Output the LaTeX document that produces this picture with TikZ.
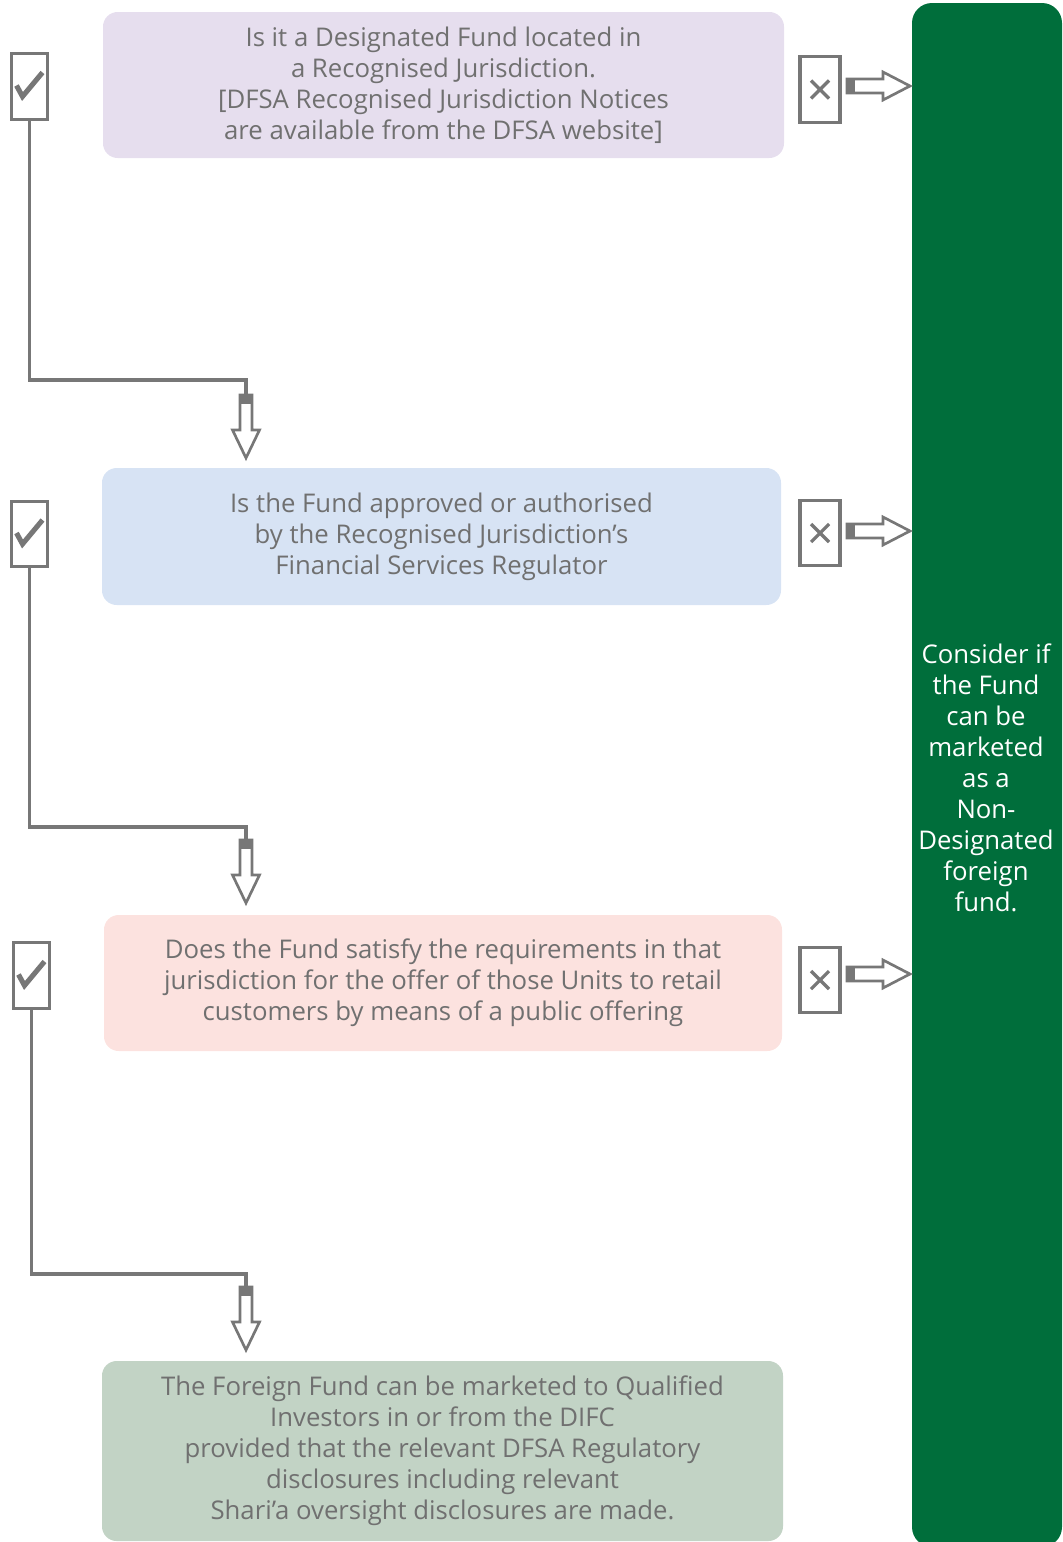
\documentclass[tikz,border=0pt]{standalone}
\usepackage{fontspec}
\setmainfont{Open Sans}
\usetikzlibrary{calc}
\definecolor{qpurple}{HTML}{E6DEEE}
\definecolor{qblue}{HTML}{D7E3F4}
\definecolor{qpink}{HTML}{FCE2DF}
\definecolor{qsage}{HTML}{C2D3C5}
\definecolor{dfsagreen}{HTML}{006E3B}
\definecolor{linegray}{HTML}{777777}
\definecolor{textgray}{HTML}{707070}
\tikzset{
  qbox/.style={rounded corners=11pt, inner sep=0pt, align=center, text=textgray,
    font=\fontsize{19.3}{23.25}\selectfont},
  tickbox/.style={draw=linegray, line width=2.4pt, fill=white, minimum width=27.5pt, minimum height=49pt, inner sep=0pt},
  conn/.style={draw=linegray, line width=2.4pt},
  tickmark/.style={draw=linegray, line width=2.4pt},
  pics/downarr/.style={code={
    \draw[linegray, line width=2pt, fill=white] (-6,0) -- (-6,35) -- (-13.5,35) -- (0,63) -- (13.5,35) -- (6,35) -- (6,0) -- cycle;
    \fill[linegray] (-6,0) rectangle (6,9);
  }},
  pics/rightarr/.style={code={
    \draw[linegray, line width=2pt, fill=white] (0,-7) -- (36,-7) -- (36,-14) -- (63,0) -- (36,14) -- (36,7) -- (0,7) -- cycle;
    \fill[linegray] (0,-7) rectangle (8,7);
  }}
}
\begin{document}
\begin{tikzpicture}[x=0.75pt, y=-0.75pt]
            \useasboundingbox (0,0) rectangle (1063,1542);

            % Non-Designated column
            \node[qbox, rounded corners=15pt, fill=dfsagreen, minimum width=112.5pt, minimum height=1158pt] (nd) at (987,775) {};
            \node[text=white, align=center, font=\fontsize{19.3}{23.25}\selectfont] (ndtext) at (986,778) {Consider if\\the Fund\\can be\\marketed\\as a\\Non-\\Designated\\foreign\\fund.};

            % Questions
            \node[qbox, fill=qpurple, minimum width=510.75pt, minimum height=109.5pt] (q1) at (443.5,85) {Is it a Designated Fund located in\\a Recognised Jurisdiction.\\{[}DFSA Recognised Jurisdiction Notices\\are available from the DFSA website{]}};
            \node[qbox, fill=qblue, minimum width=509.25pt, minimum height=102.75pt] (q2) at (441.5,536.5) {Is the Fund approved or authorised\\by the Recognised Jurisdiction’s\\Financial Services Regulator};
            \node[qbox, fill=qpink, minimum width=508.5pt, minimum height=102pt] (q3) at (443,983) {Does the Fund satisfy the requirements in that\\jurisdiction for the offer of those Units to retail\\customers by means of a public offering};
            \node[qbox, fill=qsage, minimum width=510.75pt, minimum height=135pt] (q4) at (442.5,1451) {The Foreign Fund can be marketed to Qualified\\Investors in or from the DIFC\\provided that the relevant DFSA Regulatory\\disclosures including relevant\\Shari’a oversight disclosures are made.};

            % yes boxes
            \node[tickbox] (yes1) at (29.5,86.5) {};
            \node[tickbox] (yes2) at (29.5,534) {};
            \node[tickbox] (yes3) at (31.5,975.5) {};
            \foreach \n in {yes1,yes2,yes3}
              \draw[tickmark, line width=3.8pt] ($(\n)+(-13,-1)$) -- ($(\n)+(-7,10)$) -- ($(\n)+(13,-14)$);

            % no boxes
            \node[tickbox, minimum width=30pt] (no1) at (820,89.5) {};
            \node[tickbox, minimum width=30pt] (no2) at (820,533) {};
            \node[tickbox, minimum width=30pt] (no3) at (820,980) {};
            \foreach \n in {no1,no2,no3}
              \draw[tickmark] ($(\n)+(-9,-9)$) -- ($(\n)+(9,9)$) ($(\n)+(-9,9)$) -- ($(\n)+(9,-9)$);

            % yes paths
            \coordinate (t1) at (246,395);
            \coordinate (t2) at (246,840);
            \coordinate (t3) at (246,1287);
            \draw[conn] (yes1.south) |- (246,380) -- (t1);
            \draw[conn] (yes2.south) |- (246,827) -- (t2);
            \draw[conn] (yes3.south) |- (246,1274) -- (t3);
            \pic at (t1) {downarr};
            \pic at (t2) {downarr};
            \pic at (t3) {downarr};

            % no arrows
            \pic at (847,86) {rightarr};
            \pic at (847,531) {rightarr};
            \pic at (847,974) {rightarr};
\end{tikzpicture}
\end{document}
